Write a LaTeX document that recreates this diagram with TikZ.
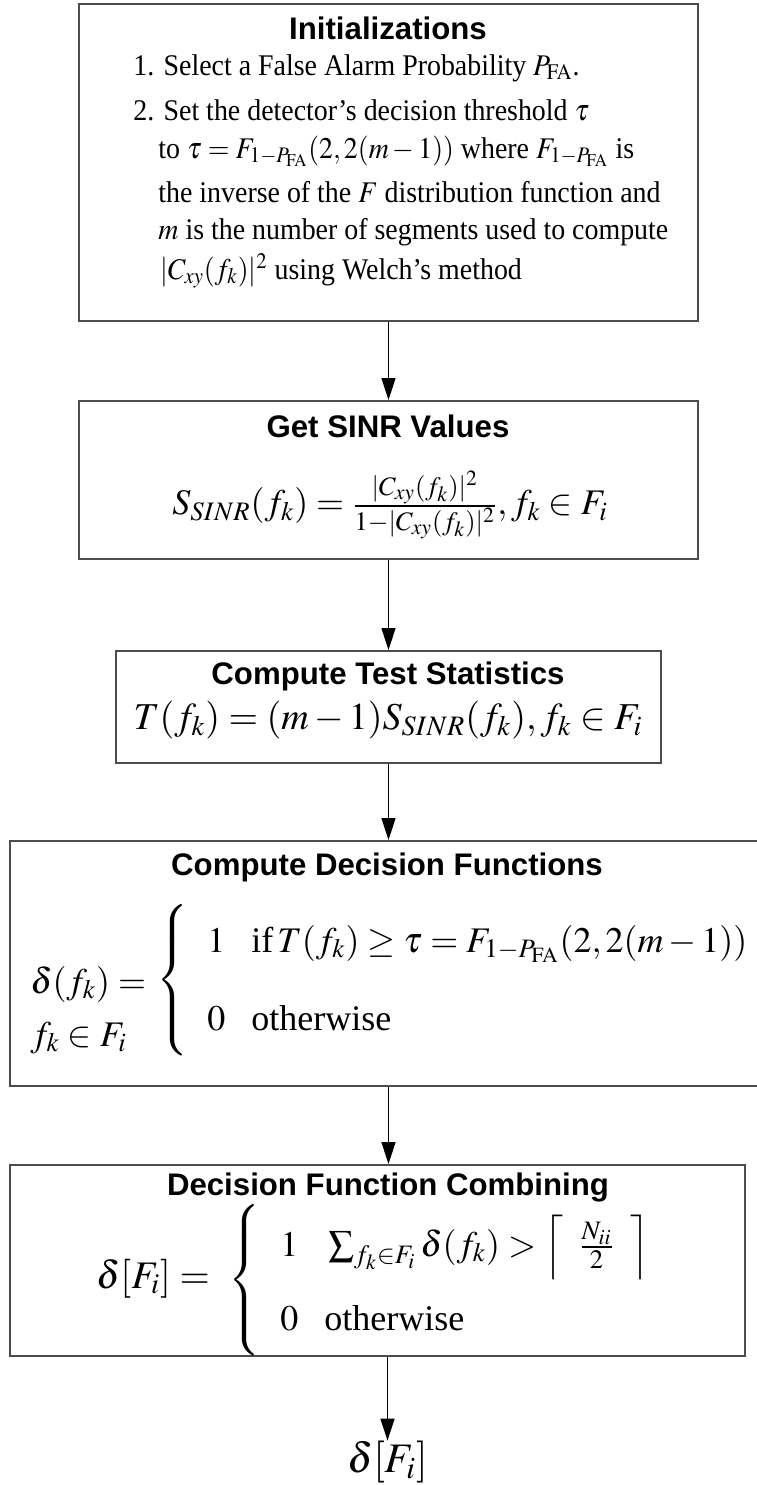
\documentclass[tikz,border=0pt]{standalone}
\usepackage{amsmath}
\usepackage{graphicx}
\usepackage{mathptmx}
\usepackage[no-math]{fontspec}
\setmainfont{Liberation Serif}
\newfontfamily\headfont{Liberation Sans}
\usetikzlibrary{arrows.meta}

% tall curly brace of a given height
\newcommand{\tallbrace}[1]{$\left\{\vcenter{\hbox{\rule{0pt}{#1}}}\right.$}
% slightly condensed body line
\newcommand{\condensed}[1]{\scalebox{0.93}[1]{#1}}

\begin{document}
\begin{tikzpicture}[x=0.5pt,y=-0.5pt,
  box/.style={draw=black!70, line width=1pt, inner sep=0pt, anchor=north west},
  flow/.style={-{Triangle[length=11pt,width=7pt]}, line width=0.75pt},
  head/.style={font=\headfont\bfseries\fontsize{15.6}{18}\selectfont, inner sep=0pt},
  body/.style={font=\fontsize{15}{18}\selectfont, inner sep=0pt, anchor=base west},
  big/.style={font=\fontsize{18}{22}\selectfont, inner sep=0pt},
  row/.style={big, anchor=base west},
]
\useasboundingbox (0,0) rectangle (756,1485);

% Step 1: initializations
\node[box, minimum width=309.5pt, minimum height=158.5pt] (b1) at (78,3) {};
\node[head] (h1) at (388,28) {Initializations};
\node[body] (l1) at (133,75) {\condensed{1. Select a False Alarm Probability $P_{\mathrm{FA}}$.}};
\node[body] (l2) at (133,120) {\condensed{2. Set the detector’s decision threshold $\tau$}};
\node[body] (l3) at (158,158) {\condensed{to $\tau = F_{1-P_{\mathrm{FA}}}(2,2(m-1))$ where $F_{1-P_{\mathrm{FA}}}$ is}};
\node[body] (l4) at (158,202) {\condensed{the inverse of the $F$ distribution function and}};
\node[body] (l5) at (158,239) {\condensed{$m$ is the number of segments used to compute}};
\node[body] (l6) at (160,279) {\condensed{$|C_{xy}(f_k)|^2$ using Welch’s method}};

% Step 2: SINR values
\node[box, minimum width=309.5pt, minimum height=79pt] (b2) at (78,400) {};
\node[head] (h2) at (388,426) {Get SINR Values};
\node[big] (f2) at (390,505) {$S_{SINR}(f_k) = \frac{|C_{xy}(f_k)|^2}{1-|C_{xy}(f_k)|^2}, f_k \in F_i$};

% Step 3: test statistics
\node[box, minimum width=272.5pt, minimum height=56pt] (b3) at (115,650) {};
\node[head] (h3) at (388,676) {Compute Test Statistics};
\node[big, font=\fontsize{19}{22}\selectfont] (f3) at (388,720) {$T(f_k) = (m-1)S_{SINR}(f_k), f_k \in F_i$};

% Step 4: decision functions
\node[box, minimum width=378pt, minimum height=122.5pt] (b4) at (9,840) {};
\node[head] (h4) at (387,867) {Compute Decision Functions};
\node[row] (d4a) at (30,993) {$\delta(f_k) =$};
\node[row] (d4b) at (30,1046) {$f_k \in F_i$};
\node[big] (br4) at (174,980) {\tallbrace{78pt}};
\node[row] (r4a) at (207,952) {$1\hspace{13pt}\text{if}\,T(f_k) \ge \tau = F_{1-P_{\mathrm{FA}}}(2,2(m-1))$};
\node[row] (r4b) at (207,1030) {$0\hspace{13pt}\text{otherwise}$};

% Step 5: combining
\node[box, minimum width=367.5pt, minimum height=95.5pt] (b5) at (9,1164) {};
\node[head] (h5) at (388,1187) {Decision Function Combining};
\node[row, font=\fontsize{19.5}{22}\selectfont] (d5) at (96,1288) {$\delta[F_i] =$};
\node[big] (br5) at (246,1280) {\tallbrace{74pt}};
\node[row] (r5a) at (280,1256) {$1\hspace{13pt}\textstyle\sum_{f_k\in F_i}\delta(f_k) > \left\lceil\;\; \frac{N_{ii}}{2}\;\;\right\rceil$};
\node[row] (r5b) at (280,1330) {$0\hspace{13pt}\text{otherwise}$};

% Output
\node[big, font=\fontsize{21}{24}\selectfont] (out) at (387.5,1462) {$\delta[F_i]$};

% Connectors
\draw[flow] (b1.south) -- (b2.north);
\draw[flow] (b2.south) -- (b3.north);
\draw[flow] (b3.south) -- (b3.south |- b4.north);
\draw[flow] (b3.south |- b4.south) -- (b3.south |- b5.north);
\draw[flow] (out.north |- b5.south) -- (out.north);
\end{tikzpicture}
\end{document}
